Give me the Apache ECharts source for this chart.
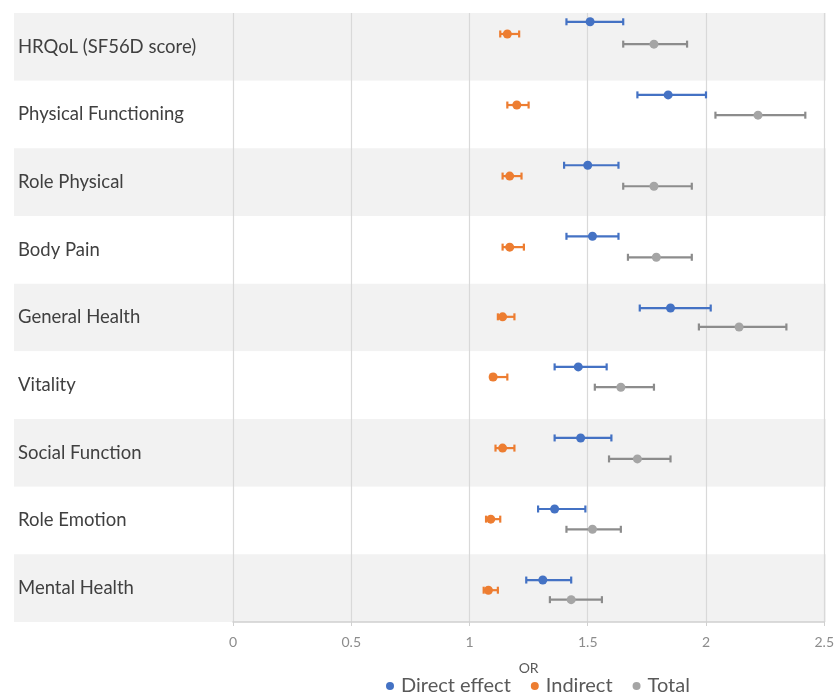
<!DOCTYPE html>
<html>
<head>
<meta charset="utf-8">
<script src="https://cdn.jsdelivr.net/npm/echarts@6/dist/echarts.min.js"></script>
<style>
  html, body { margin: 0; padding: 0; background: #fff; }
  #main { width: 837px; height: 695px; }
</style>
</head>
<body>
<div id="main"></div>
<script>
// outcomes, top to bottom
var categories = ['HRQoL (SF56D score)', 'Physical Functioning', 'Role Physical', 'Body Pain',
  'General Health', 'Vitality', 'Social Function', 'Role Emotion', 'Mental Health']

// odds ratios with lower / upper bounds, and the y value each row sits at (0-9)
var directOR = [1.51, 1.84, 1.50, 1.52, 1.85, 1.46, 1.47, 1.36, 1.31]
var directLo = [1.41, 1.71, 1.40, 1.41, 1.72, 1.36, 1.36, 1.29, 1.24]
var directHi = [1.65, 2.00, 1.63, 1.63, 2.02, 1.58, 1.60, 1.49, 1.43]
var directY = [8.87, 7.79, 6.75, 5.70, 4.64, 3.77, 2.72, 1.67, 0.62]

var indirectOR = [1.16, 1.20, 1.17, 1.17, 1.14, 1.10, 1.14, 1.09, 1.08]
var indirectLo = [1.13, 1.16, 1.14, 1.14, 1.12, 1.09, 1.11, 1.07, 1.06]
var indirectHi = [1.21, 1.25, 1.22, 1.23, 1.19, 1.16, 1.19, 1.13, 1.12]
var indirectY = [8.69, 7.64, 6.59, 5.54, 4.51, 3.62, 2.57, 1.52, 0.47]

var totalOR = [1.78, 2.22, 1.78, 1.79, 2.14, 1.64, 1.71, 1.52, 1.43]
var totalLo = [1.65, 2.04, 1.65, 1.67, 1.97, 1.53, 1.59, 1.41, 1.34]
var totalHi = [1.92, 2.42, 1.94, 1.94, 2.34, 1.78, 1.85, 1.64, 1.56]
var totalY = [8.54, 7.49, 6.44, 5.39, 4.36, 3.47, 2.41, 1.37, 0.33]

var FONT = 'Lato'

function points (vals, ys) {
  return vals.map(function (v, i) { return [v, ys[i]] })
}
function bars (lo, hi, ys) {
  return lo.map(function (v, i) { return [v, hi[i], ys[i]] })
}

function errorBar (color) {
  return function (params, api) {
    var a = api.coord([api.value(0), api.value(2)])
    var b = api.coord([api.value(1), api.value(2)])
    var h = 3.5
    var style = { stroke: color, lineWidth: 2.2 }
    return {
      type: 'group',
      children: [
        { type: 'line', shape: { x1: a[0], y1: a[1], x2: b[0], y2: b[1] }, style: style },
        { type: 'line', shape: { x1: a[0], y1: a[1] - h, x2: a[0], y2: a[1] + h }, style: style },
        { type: 'line', shape: { x1: b[0], y1: b[1] - h, x2: b[0], y2: b[1] + h }, style: style }
      ]
    }
  }
}

var chartDom = document.getElementById('main')
var myChart = echarts.init(chartDom)
var option

option = {
  animation: false,
  textStyle: { fontFamily: FONT },
  grid: [
    { left: 14, right: 11, top: 13, height: 609 },
    { left: 233, right: 11, top: 13, height: 609 }
  ],
  legend: {
    left: 381,
    top: 671,
    icon: 'circle',
    itemWidth: 12,
    itemHeight: 8,
    itemGap: 20,
    textStyle: { color: '#595959', fontSize: 20, fontFamily: FONT },
    data: ['Direct effect', 'Indirect', 'Total']
  },
  xAxis: [
    { gridIndex: 0, type: 'value', min: 0, max: 1, show: false },
    {
      gridIndex: 1,
      type: 'value',
      min: 0,
      max: 2.5,
      interval: 0.5,
      name: 'OR',
      nameLocation: 'middle',
      nameGap: 39,
      nameTextStyle: { color: '#595959', fontSize: 14 },
      axisLine: { show: true, lineStyle: { color: '#d0d0d0', width: 1.5 } },
      axisTick: { show: true, length: 4, lineStyle: { color: '#d0d0d0' } },
      axisLabel: { color: '#8c8c8c', fontSize: 14, margin: 13 },
      splitLine: { show: true, lineStyle: { color: '#d9d9d9', width: 1.2 } }
    }
  ],
  yAxis: [
    {
      gridIndex: 0,
      type: 'category',
      inverse: true,
      data: categories,
      axisLine: { show: false },
      axisTick: { show: false },
      axisLabel: { inside: true, margin: 4, color: '#404040', fontSize: 18.5 },
      splitLine: { show: false },
      splitArea: { show: true, areaStyle: { color: ['#f2f2f2', '#ffffff'] } }
    },
    { gridIndex: 1, type: 'value', min: 0, max: 9, show: false }
  ],
  series: [
    {
      name: 'Direct effect CI', type: 'custom', xAxisIndex: 1, yAxisIndex: 1, z: 2,
      renderItem: errorBar('#4472c4'), encode: { x: [0, 1], y: 2 },
      data: bars(directLo, directHi, directY)
    },
    {
      name: 'Indirect CI', type: 'custom', xAxisIndex: 1, yAxisIndex: 1, z: 2,
      renderItem: errorBar('#ed7d31'), encode: { x: [0, 1], y: 2 },
      data: bars(indirectLo, indirectHi, indirectY)
    },
    {
      name: 'Total CI', type: 'custom', xAxisIndex: 1, yAxisIndex: 1, z: 2,
      renderItem: errorBar('#8c8c8c'), encode: { x: [0, 1], y: 2 },
      data: bars(totalLo, totalHi, totalY)
    },
    {
      name: 'Direct effect', type: 'scatter', xAxisIndex: 1, yAxisIndex: 1, z: 3,
      symbolSize: 9, itemStyle: { color: '#4472c4', opacity: 1 },
      data: points(directOR, directY)
    },
    {
      name: 'Indirect', type: 'scatter', xAxisIndex: 1, yAxisIndex: 1, z: 3,
      symbolSize: 9, itemStyle: { color: '#ed7d31', opacity: 1 },
      data: points(indirectOR, indirectY)
    },
    {
      name: 'Total', type: 'scatter', xAxisIndex: 1, yAxisIndex: 1, z: 3,
      symbolSize: 9, itemStyle: { color: '#a5a5a5', opacity: 1 },
      data: points(totalOR, totalY)
    }
  ]
}

option && myChart.setOption(option)
window.addEventListener('resize', () => myChart.resize())
</script>
</body>
</html>
